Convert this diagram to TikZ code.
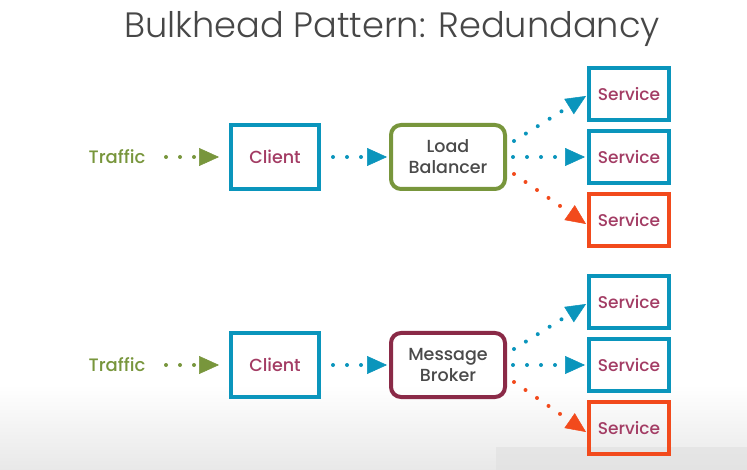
\documentclass[tikz,border=0pt]{standalone}
\usepackage{fontspec}
\usetikzlibrary{arrows.meta}
\IfFontExistsTF{Poppins Light}{\newfontfamily\titlefont{Poppins Light}}{\newfontfamily\titlefont{Poppins}}
\IfFontExistsTF{Poppins Medium}{\newfontfamily\bodyfont{Poppins Medium}}{\newfontfamily\bodyfont{Poppins}}
\definecolor{cblue}{HTML}{0A95BC}
\definecolor{cred}{HTML}{F24A1C}
\definecolor{cgreen}{HTML}{78963C}
\definecolor{cmaroon}{HTML}{8A2A47}
\definecolor{ctext}{HTML}{A33C64}
\definecolor{cgray}{HTML}{4A4A4A}
\begin{document}
\begin{tikzpicture}[x=1pt,y=-1pt,
  box/.style={line width=4pt, inner sep=0pt, align=center, font=\bodyfont\fontsize{17.5}{21}\selectfont},
  client/.style={box, draw=cblue, text=ctext, minimum width=88pt, minimum height=64pt},
  hub/.style={box, rounded corners=10pt, text=cgray, minimum width=114pt, minimum height=64pt},
  svc/.style={box, text=ctext, minimum width=80pt, minimum height=52pt, font=\bodyfont\fontsize{17}{20}\selectfont},
  traffic/.style={text=cgreen, font=\bodyfont\fontsize{18}{21}\selectfont, inner sep=0pt},
  dotarrow/.style={line width=4pt, line cap=round, dash pattern=on 0pt off 14pt,
    -{Triangle[length=20pt,width=18pt,line width=0.5pt]}},
]
\useasboundingbox (0,0) rectangle (747,470);
\fill[white] (0,0) rectangle (747,470);
\shade[top color=white, bottom color=black!9] (0,385) rectangle (747,470);
\fill[black!12, opacity=0.6] (496,447) rectangle (747,470);

\node[text=black!72, font=\titlefont\fontsize{35.2}{40}\selectfont, inner sep=0pt] (title) at (392,29) {Bulkhead Pattern: Redundancy};

% top row
\node[traffic] (t1) at (117,157) {Traffic};
\node[client] (c1) at (275,157) {Client};
\node[hub, draw=cgreen] (lb) at (448,157) {Load\\Balancer};
\node[svc, draw=cblue] (s1) at (629,94) {Service};
\node[svc, draw=cblue] (s2) at (629,157) {Service};
\node[svc, draw=cred] (s3) at (629,220) {Service};
\coordinate (t1e) at (166,157);
\coordinate (c1a) at (219,157);
\draw[dotarrow, cgreen] (t1e) -- (c1a);
\coordinate (c1e) at (333,157);
\coordinate (lba) at (387,157);
\draw[dotarrow, cblue] (c1e) -- (lba);
\coordinate (lb1) at (514,141);
\coordinate (lb2) at (513,157);
\coordinate (lb3) at (514,174);
\coordinate (s1a) at (586,96);
\coordinate (s2a) at (585,157);
\coordinate (s3a) at (586,224);
\draw[dotarrow, cblue] (lb1) -- (s1a);
\draw[dotarrow, cblue] (lb2) -- (s2a);
\draw[dotarrow, cred] (lb3) -- (s3a);

% bottom row
\node[traffic] (t2) at (117,365) {Traffic};
\node[client] (c2) at (275,365) {Client};
\node[hub, draw=cmaroon] (mb) at (448,365) {Message\\Broker};
\node[svc, draw=cblue] (u1) at (629,302) {Service};
\node[svc, draw=cblue] (u2) at (629,365) {Service};
\node[svc, draw=cred] (u3) at (629,428) {Service};
\coordinate (t2e) at (166,365);
\coordinate (c2a) at (219,365);
\draw[dotarrow, cgreen] (t2e) -- (c2a);
\coordinate (c2e) at (333,365);
\coordinate (mba) at (387,365);
\draw[dotarrow, cblue] (c2e) -- (mba);
\coordinate (mb1) at (514,349);
\coordinate (mb2) at (513,365);
\coordinate (mb3) at (514,382);
\coordinate (u1a) at (586,304);
\coordinate (u2a) at (585,365);
\coordinate (u3a) at (586,432);
\draw[dotarrow, cblue] (mb1) -- (u1a);
\draw[dotarrow, cblue] (mb2) -- (u2a);
\draw[dotarrow, cred] (mb3) -- (u3a);
\end{tikzpicture}
\end{document}
